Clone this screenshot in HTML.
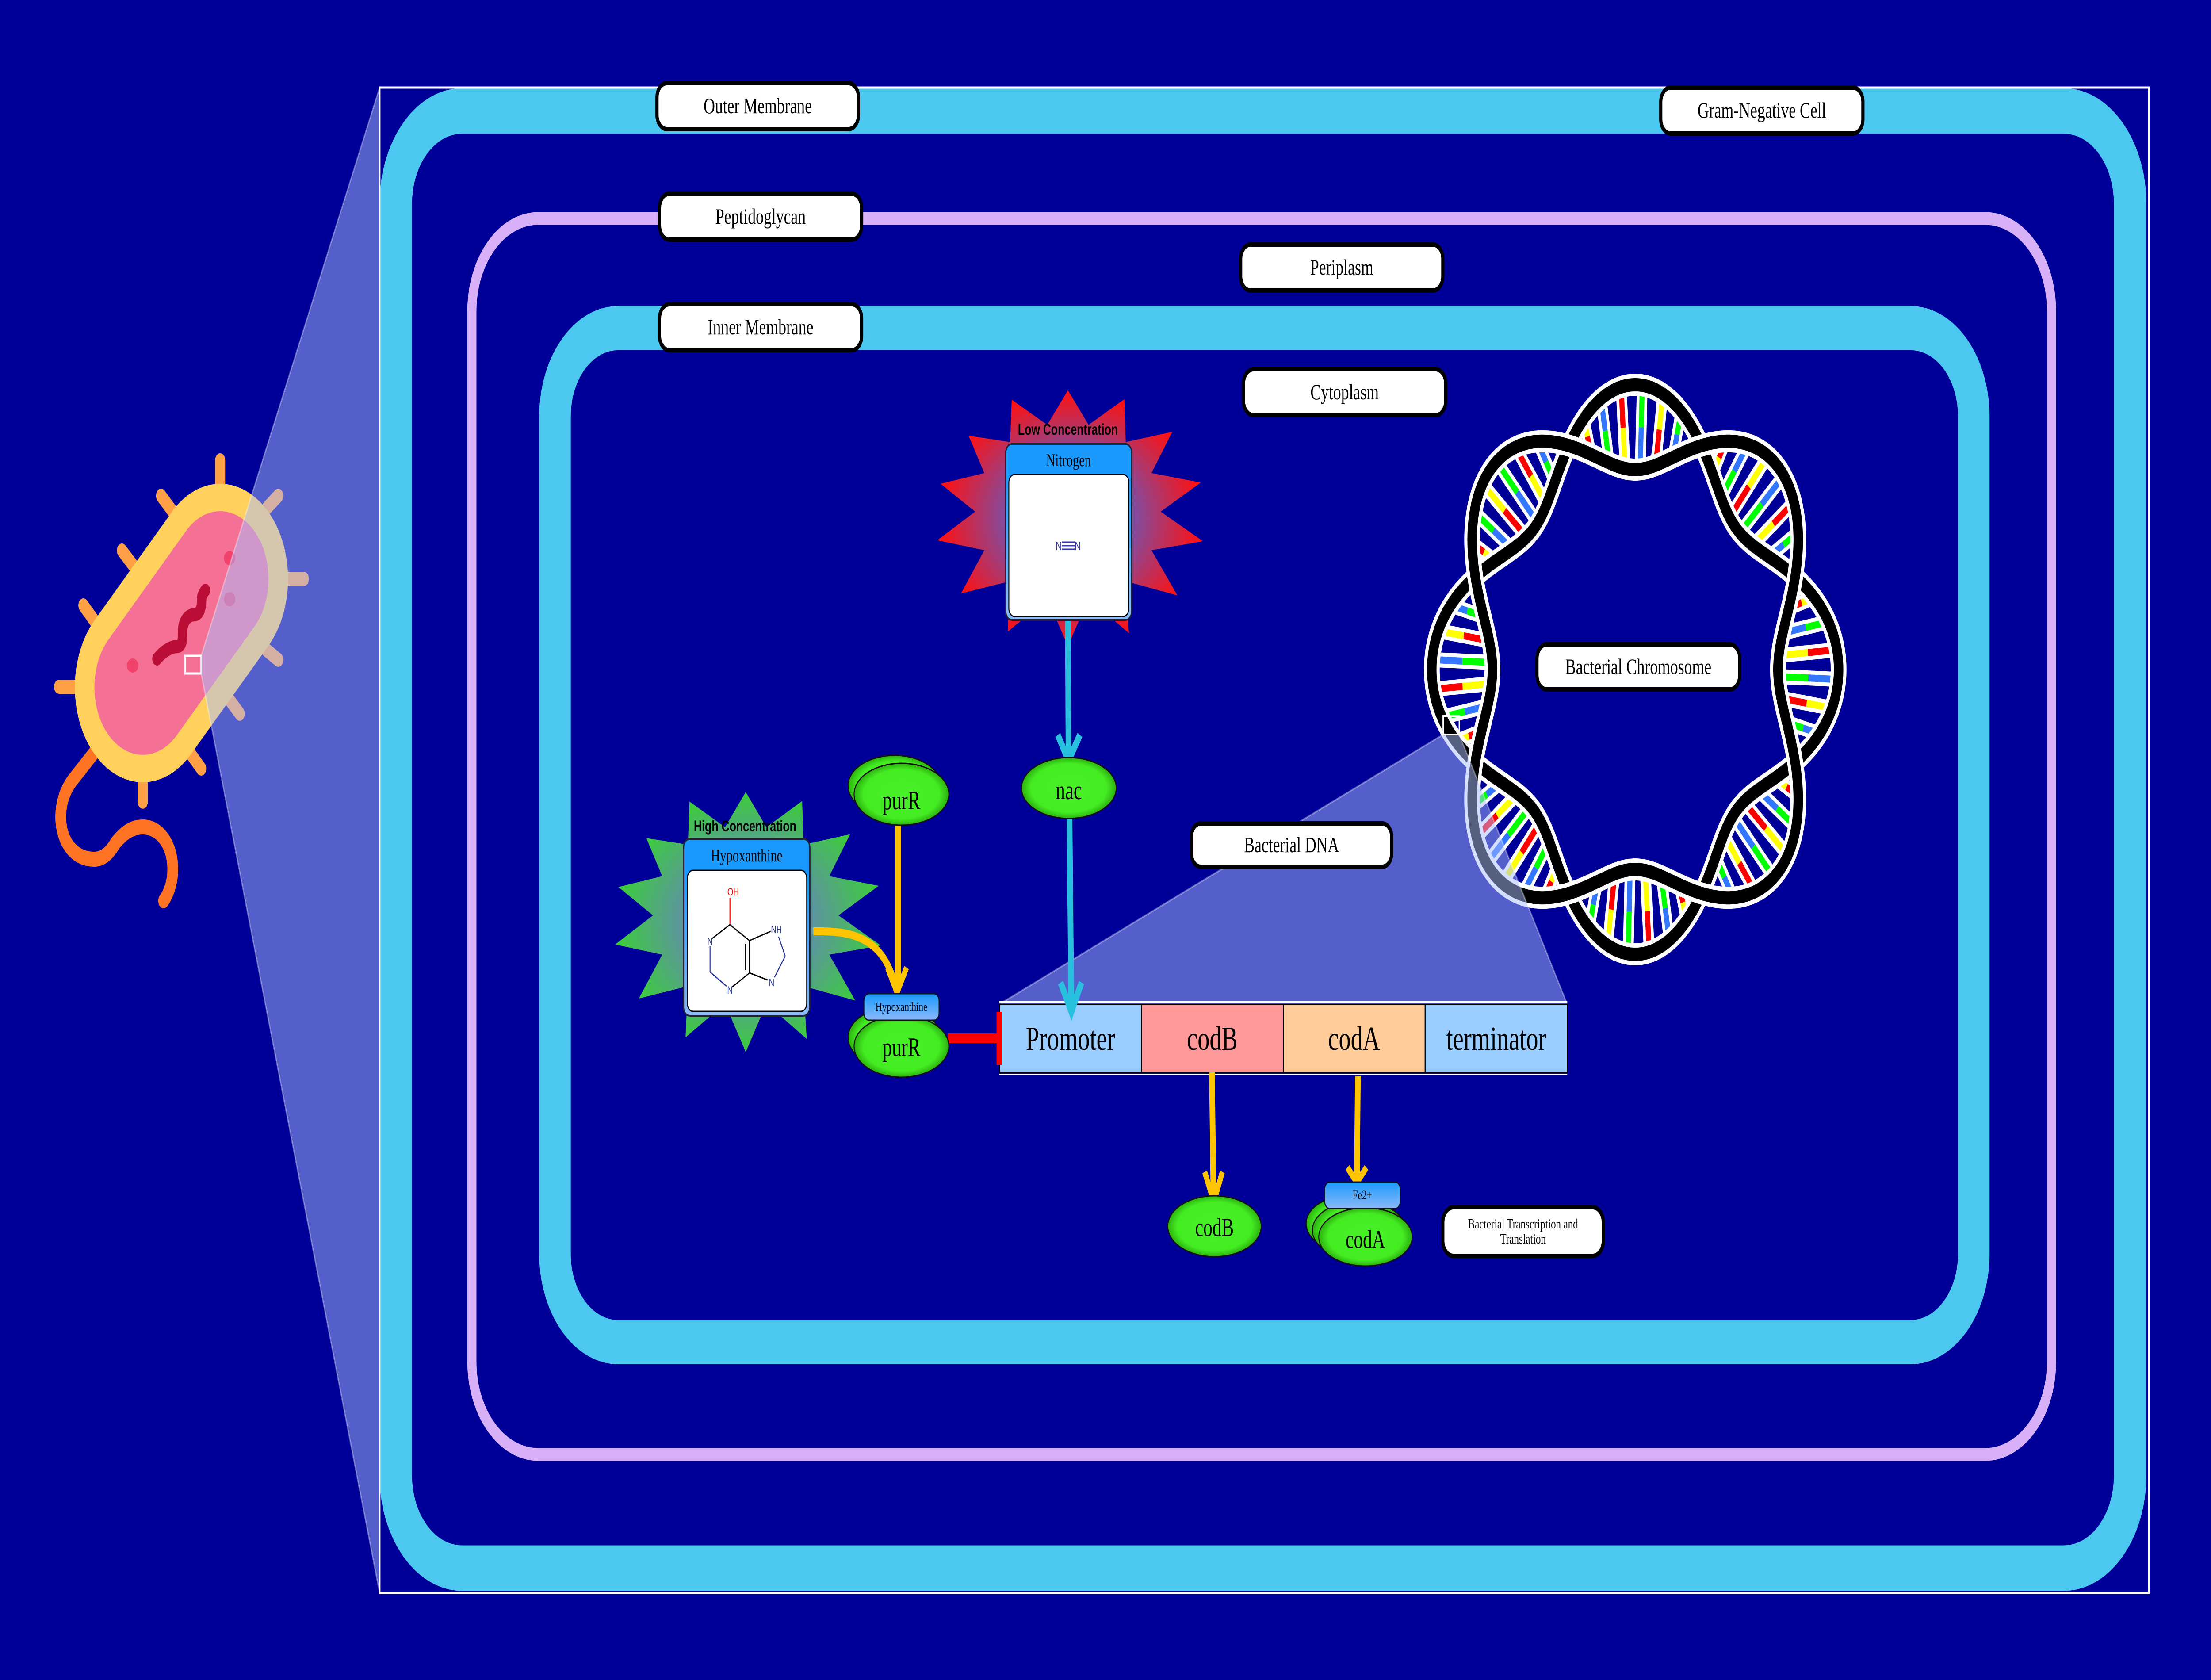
<!DOCTYPE html>
<html><head><meta charset="utf-8">
<style>
html,body{margin:0;padding:0;background:#000099;width:100vw;height:100vh;overflow:hidden;}
svg{display:block;width:100vw;height:100vh;}
.lbl{font-family:"Liberation Serif",serif;fill:#000;text-anchor:middle;}
.box{fill:#fff;stroke:#000;stroke-width:10;}
</style></head>
<body>
<svg id="s" xmlns="http://www.w3.org/2000/svg" viewBox="0 0 7000 3799" preserveAspectRatio="none">
<defs>
<radialGradient id="gRed" cx="50%" cy="50%" r="50%">
<stop offset="0" stop-color="#5a5ab0"/><stop offset="0.45" stop-color="#7a50a8"/><stop offset="1" stop-color="#ff1010"/></radialGradient>
<radialGradient id="gGreen" cx="50%" cy="50%" r="50%">
<stop offset="0" stop-color="#5a64c0"/><stop offset="0.45" stop-color="#6090a8"/><stop offset="1" stop-color="#3ccc3c"/></radialGradient>
<radialGradient id="gNode" cx="50%" cy="50%" r="50%">
<stop offset="0" stop-color="#48f028"/><stop offset="0.8" stop-color="#44ec22"/><stop offset="1" stop-color="#2cb010"/></radialGradient>
<linearGradient id="gHead" x1="0" y1="0" x2="0" y2="1">
<stop offset="0" stop-color="#1a9aff"/><stop offset="0.2" stop-color="#1a9aff"/><stop offset="1" stop-color="#8ab8f8"/></linearGradient>
<linearGradient id="gSmall" x1="0" y1="0" x2="0" y2="1">
<stop offset="0" stop-color="#1a9aff"/><stop offset="1" stop-color="#8ab8f8"/></linearGradient>
</defs>
<rect width="7000" height="3799" fill="#000099"/>

<g stroke-linecap="round" fill="none">
<g stroke="#FFA047" stroke-width="32">
<line x1="697" y1="1041" x2="697" y2="1095"/>
<line x1="510" y1="1121" x2="547" y2="1157"/>
<line x1="386" y1="1245" x2="423" y2="1280"/>
<line x1="264" y1="1369" x2="298" y2="1403"/>
<line x1="187" y1="1553" x2="236" y2="1553"/>
<line x1="452" y1="1773" x2="452" y2="1813"/>
<line x1="601" y1="1702" x2="637" y2="1738"/>
<line x1="721" y1="1577" x2="759" y2="1614"/>
<line x1="844" y1="1470" x2="881" y2="1492"/>
<line x1="912" y1="1309" x2="962" y2="1309"/>
<line x1="846" y1="1148" x2="881" y2="1121"/>
</g>
<path d="M 298 1702 L 230 1764 C 160 1830, 190 1943, 298 1943 C 330 1943, 350 1925, 365 1907 C 400 1875, 430 1870, 452 1870 C 510 1870, 547 1915, 547 1965 C 547 2000, 530 2025, 518 2037" stroke="#FF7424" stroke-width="34"/>
<line x1="452" y1="1554" x2="697" y2="1309" stroke="#FFD15C" stroke-width="430"/>
<line x1="452" y1="1554" x2="697" y2="1309" stroke="#F47094" stroke-width="306"/>
<path d="M 497 1490 C 520 1470, 545 1462, 560 1462 C 580 1462, 578 1440, 578 1430 C 578 1400, 600 1390, 615 1390 C 632 1390, 638 1375, 638 1360 C 638 1345, 645 1340, 650 1335" stroke="#BB0E36" stroke-width="30"/>
</g>
<ellipse cx="420" cy="1505" rx="18" ry="16" fill="#F0426A"/>
<ellipse cx="727" cy="1262" rx="18" ry="16" fill="#F0426A"/>
<ellipse cx="727" cy="1355" rx="18" ry="16" fill="#F0426A"/>
<rect x="586" y="1483" width="51" height="40" fill="none" stroke="#fff" stroke-width="5"/>

<rect x="1253" y="251" width="5491" height="3295" rx="210" ry="210" fill="none" stroke="#4CC8F0" stroke-width="103"/>
<rect x="1494" y="494" width="5001" height="2795" rx="210" ry="210" fill="none" stroke="#D8B0F8" stroke-width="29"/>
<rect x="1757" y="742" width="4492" height="2293" rx="200" ry="200" fill="none" stroke="#4CC8F0" stroke-width="100"/>

<g id="gen"></g>

<polygon points="637,1483 1202,198 1202,3602 637,1523" fill="rgb(170,190,255)" fill-opacity="0.5" stroke="rgba(255,255,255,0.35)" stroke-width="4"/>
<rect x="1202" y="198" width="5601" height="3404" fill="none" stroke="#fff" stroke-width="5"/>
<polygon points="4569,1661 4620,1661 4962,2271 3164,2271" fill="rgb(170,190,255)" fill-opacity="0.5" stroke="rgba(255,255,255,0.35)" stroke-width="4"/>
<rect x="4569" y="1619" width="51" height="42" fill="none" stroke="#fff" stroke-width="4"/>

<g>
<rect class="box" x="2080" y="188" width="638" height="104" rx="32"/><text class="lbl" x="2399" y="256" font-size="50">Outer Membrane</text>
<rect class="box" x="5258" y="198" width="640" height="104" rx="32"/><text class="lbl" x="5578" y="266" font-size="50">Gram-Negative Cell</text>
<rect class="box" x="2088" y="438" width="640" height="104" rx="32"/><text class="lbl" x="2408" y="506" font-size="50">Peptidoglycan</text>
<rect class="box" x="3928" y="553" width="640" height="104" rx="32"/><text class="lbl" x="4248" y="621" font-size="50">Periplasm</text>
<rect class="box" x="2088" y="688" width="640" height="104" rx="32"/><text class="lbl" x="2408" y="756" font-size="50">Inner Membrane</text>
<rect class="box" x="3937" y="835" width="640" height="104" rx="32"/><text class="lbl" x="4257" y="903" font-size="50">Cytoplasm</text>
<rect class="box" x="4866" y="1457" width="642" height="102" rx="32"/><text class="lbl" x="5187" y="1524" font-size="50">Bacterial Chromosome</text>
<rect class="box" x="3772" y="1862" width="634" height="98" rx="30"/><text class="lbl" x="4089" y="1927" font-size="50">Bacterial DNA</text>
<rect class="box" x="4568" y="2730" width="508" height="110" rx="34"/>
<text class="lbl" x="4822" y="2778" font-size="32">Bacterial Transcription and</text>
<text class="lbl" x="4822" y="2812" font-size="32">Translation</text>
</g>

<line x1="3164" y1="2266" x2="4962" y2="2266" stroke="#fff" stroke-width="4"/>
<line x1="3164" y1="2430" x2="4962" y2="2430" stroke="#fff" stroke-width="4"/>
<g stroke="#000" stroke-width="3">
<rect x="3164" y="2271" width="450" height="154" fill="#99CCFF"/>
<rect x="3614" y="2271" width="449" height="154" fill="#FF9999"/>
<rect x="4063" y="2271" width="449" height="154" fill="#FFCC99"/>
<rect x="4512" y="2271" width="450" height="154" fill="#99CCFF"/>
</g>
<text class="lbl" x="3389" y="2374" font-size="76">Promoter</text>
<text class="lbl" x="3838" y="2374" font-size="76">codB</text>
<text class="lbl" x="4287" y="2374" font-size="76">codA</text>
<text class="lbl" x="4737" y="2374" font-size="76">terminator</text>

<line x1="3000" y1="2348" x2="3160" y2="2348" stroke="#FF0000" stroke-width="22"/>
<line x1="3163" y1="2288" x2="3163" y2="2408" stroke="#FF0000" stroke-width="16"/>

<g fill="none" stroke-linejoin="miter">
<line x1="3381" y1="1402" x2="3383" y2="1715" stroke="#29C0E0" stroke-width="18"/>
<polyline points="3349,1662 3383,1720 3419,1662" stroke="#29C0E0" stroke-width="18"/>
<line x1="3386" y1="1851" x2="3392" y2="2285" stroke="#29C0E0" stroke-width="18"/>
<polyline points="3358,2222 3392,2288 3424,2222" stroke="#29C0E0" stroke-width="18"/>
<line x1="2843" y1="1866" x2="2843" y2="2238" stroke="#FFC400" stroke-width="18"/>
<path d="M2575,2106 C2700,2104 2800,2120 2838,2238" stroke="#FFC400" stroke-width="18"/>
<polyline points="2810,2188 2840,2244 2870,2188" stroke="#FFC400" stroke-width="16"/>
<line x1="3837" y1="2425" x2="3842" y2="2712" stroke="#FFC400" stroke-width="18"/>
<polyline points="3814,2650 3843,2718 3870,2650" stroke="#FFC400" stroke-width="16"/>
<line x1="4299" y1="2433" x2="4296" y2="2668" stroke="#FFC400" stroke-width="18"/>
<polyline points="4266,2640 4296,2674 4326,2640" stroke="#FFC400" stroke-width="16"/>
</g>

<rect x="3184" y="1004" width="399" height="398" rx="20" fill="url(#gHead)" stroke="#223" stroke-width="4"/>
<rect x="3194" y="1073" width="380" height="321" rx="18" fill="#fff" stroke="#000" stroke-width="3"/>
<text class="lbl" x="3383" y="1054" font-size="40">Nitrogen</text>
<text x="3381" y="983" font-family="Liberation Sans,sans-serif" font-weight="bold" font-size="35" text-anchor="middle">Low Concentration</text>
<text x="3352" y="1244" font-family="Liberation Sans,sans-serif" font-size="28" fill="#3a3ab0" text-anchor="middle">N</text>
<text x="3412" y="1244" font-family="Liberation Sans,sans-serif" font-size="28" fill="#3a3ab0" text-anchor="middle">N</text>
<g stroke="#3a3ab0" stroke-width="3"><line x1="3362" y1="1226" x2="3402" y2="1226"/><line x1="3362" y1="1234" x2="3402" y2="1234"/><line x1="3362" y1="1242" x2="3402" y2="1242"/></g>

<rect x="2164" y="1897" width="400" height="400" rx="20" fill="url(#gHead)" stroke="#223" stroke-width="4"/>
<rect x="2176" y="1968" width="378" height="319" rx="18" fill="#fff" stroke="#000" stroke-width="3"/>
<text class="lbl" x="2364" y="1948" font-size="40">Hypoxanthine</text>
<text x="2359" y="1880" font-family="Liberation Sans,sans-serif" font-weight="bold" font-size="35" text-anchor="middle">High Concentration</text>
<g stroke-width="3" fill="none">
<line x1="2311" y1="2030" x2="2311" y2="2091" stroke="#e00"/>
<polyline points="2255,2122 2311,2091 2373,2127 2373,2200 2316,2233" stroke="#000"/>
<line x1="2248" y1="2140" x2="2248" y2="2198" stroke="#223399"/>
<line x1="2248" y1="2198" x2="2300" y2="2230" stroke="#223399"/>
<line x1="2360" y1="2134" x2="2360" y2="2194" stroke="#000"/>
<line x1="2373" y1="2127" x2="2440" y2="2106" stroke="#000"/>
<line x1="2465" y1="2118" x2="2486" y2="2162" stroke="#223399"/>
<line x1="2486" y1="2162" x2="2452" y2="2210" stroke="#223399"/>
<line x1="2373" y1="2200" x2="2430" y2="2216" stroke="#000"/>
</g>
<g font-family="Liberation Sans,sans-serif" font-size="24" fill="#223399" text-anchor="middle">
<text x="2321" y="2025" fill="#e00">OH</text><text x="2248" y="2137">N</text><text x="2311" y="2247">N</text><text x="2458" y="2110">NH</text><text x="2443" y="2230">N</text>
</g>

<g stroke="#111" stroke-width="3" fill="url(#gNode)">
<ellipse cx="2832" cy="1777" rx="147" ry="69"/>
<ellipse cx="2854" cy="1796" rx="150" ry="70"/>
<ellipse cx="3384" cy="1782" rx="150" ry="69"/>
<ellipse cx="2832" cy="2346" rx="147" ry="69"/>
<ellipse cx="2854" cy="2366" rx="150" ry="70"/>
<ellipse cx="3845" cy="2773" rx="148" ry="69"/>
<ellipse cx="4283" cy="2767" rx="148" ry="66"/>
<ellipse cx="4303" cy="2782" rx="148" ry="66"/>
<ellipse cx="4323" cy="2797" rx="148" ry="66"/>
</g>
<text class="lbl" x="2854" y="1830" font-size="60">purR</text>
<text class="lbl" x="3384" y="1807" font-size="60">nac</text>
<text class="lbl" x="2854" y="2388" font-size="60">purR</text>
<text class="lbl" x="3845" y="2795" font-size="58">codB</text>
<text class="lbl" x="4323" y="2822" font-size="58">codA</text>
<rect x="2735" y="2247" width="238" height="60" rx="16" fill="url(#gSmall)" stroke="#112" stroke-width="3"/>
<text class="lbl" x="2854" y="2286" font-size="29">Hypoxanthine</text>
<rect x="4194" y="2673" width="239" height="60" rx="16" fill="url(#gSmall)" stroke="#112" stroke-width="3"/>
<text class="lbl" x="4313" y="2712" font-size="30">Fe2+</text>
</svg>
<script>
(function(){
var NS="http://www.w3.org/2000/svg";
var gen=document.getElementById('gen');
function el(t,a){var e=document.createElementNS(NS,t);for(var k in a)e.setAttribute(k,a[k]);gen.appendChild(e);return e;}
function star(cx,cy,rx,ry,n,inner,fill,rot){
 var pts=[];for(var i=0;i<2*n;i++){var a=rot+i*Math.PI/n;var f=(i%2==0)?1:inner;
  if(i%2==0)f*=(0.9+0.1*Math.abs(Math.sin(i*1.7)));
  pts.push((cx+rx*f*Math.cos(a)).toFixed(1)+","+(cy+ry*f*Math.sin(a)).toFixed(1));}
 el('polygon',{points:pts.join(' '),fill:fill});
}
star(3381,1157,445,305,14,0.66,'url(#gRed)',-Math.PI/2);
star(2361,2070,445,310,14,0.66,'url(#gGreen)',-Math.PI/2);
var cx=5177,cy=1514,R0=548,A=96;
function P(r,t){return [cx+r*Math.sin(t),cy-r*Math.cos(t)];}
var cols=['#ff0000','#ffff00','#00ff00','#3377ff'];
var pairs=[[0,1],[2,3],[1,0],[3,2],[0,1],[3,2],[1,0],[2,3]];
var idx=0;
for(var k=0;k<8;k++){
 var offs=[-16,-10,-4,2,8,14];
 for(var j=0;j<offs.length;j++){
  var t=(k*45+offs[j])*Math.PI/180;
  var c=Math.cos(4*t);var r1=R0+A*c,r2=R0-A*c;
  var ri=Math.min(r1,r2)+8,ro=Math.max(r1,r2)-8;
  if(ro-ri<20)continue;
  var a=P(ri,t),b=P(ro,t),m=P((ri+ro)/2,t);
  el('line',{x1:a[0],y1:a[1],x2:b[0],y2:b[1],stroke:'#fff','stroke-width':34});
  var pr=pairs[idx%8];idx++;
  var a2=P(ri+6,t),b2=P(ro-6,t);
  el('line',{x1:a2[0],y1:a2[1],x2:m[0],y2:m[1],stroke:cols[pr[0]],'stroke-width':16});
  el('line',{x1:m[0],y1:m[1],x2:b2[0],y2:b2[1],stroke:cols[pr[1]],'stroke-width':16});
 }
}
function strand(sg){var d='';for(var i=0;i<=720;i++){var t=i/720*2*Math.PI;var r=R0+sg*A*Math.cos(4*t);var p=P(r,t);d+=(i?'L':'M')+p[0].toFixed(1)+' '+p[1].toFixed(1);}return d+'Z';}
[1,-1].forEach(function(sg){
 el('path',{d:strand(sg),fill:'none',stroke:'#fff','stroke-width':50});
 el('path',{d:strand(sg),fill:'none',stroke:'#000','stroke-width':30});
});
})();
</script>
</body></html>
